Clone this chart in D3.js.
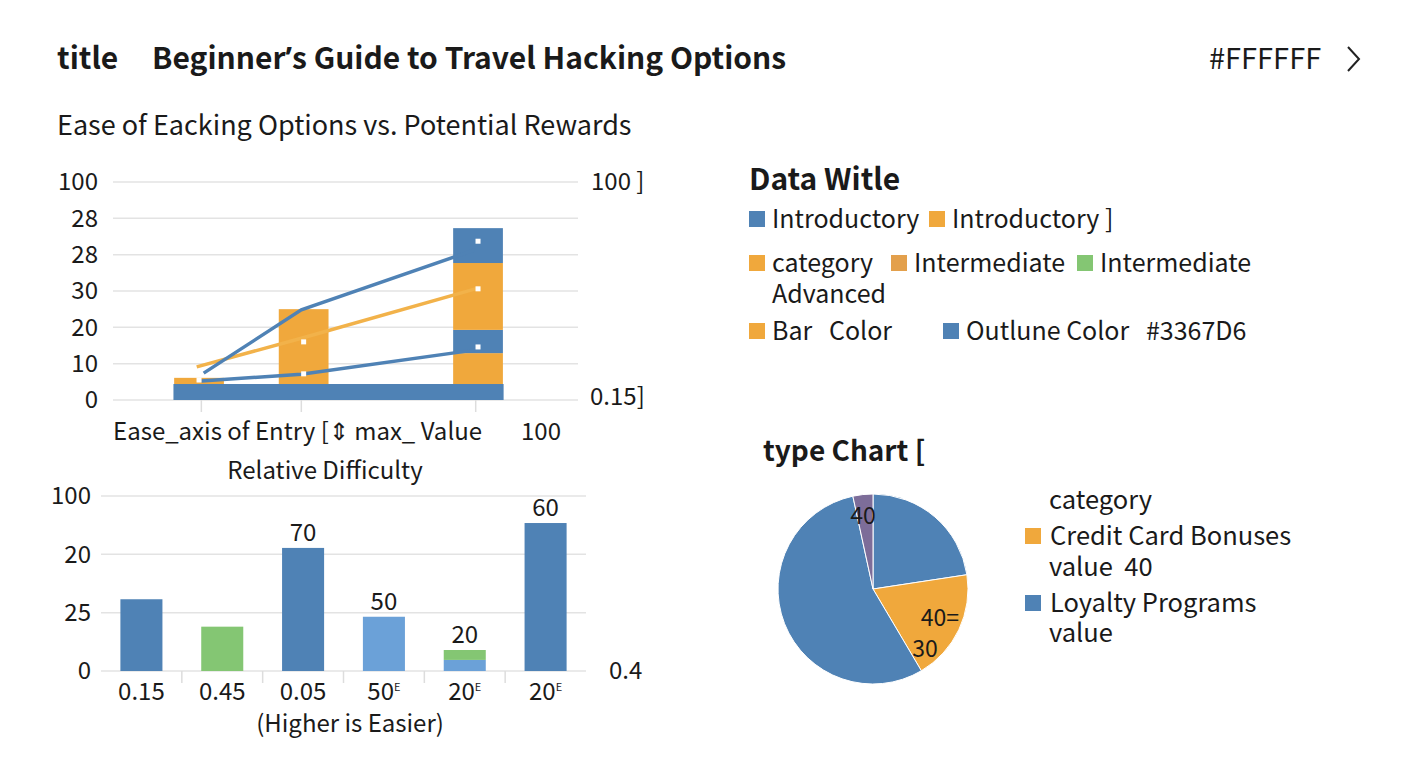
<!DOCTYPE html>
<html>
<head>
<meta charset="utf-8">
<script src="https://cdn.jsdelivr.net/npm/d3@7"></script>
<style>
  body { margin: 0; background: #fff; }
  text { font-family: "Noto Sans CJK SC", "Noto Sans", sans-serif; fill: #1a1a1a; }
  .bold { font-weight: 700; }
</style>
</head>
<body>
<svg id="chart" width="1408" height="768"></svg>
<script>
// ---- data ----
var topCatX = [19, 40.5, 78];               // positions on the ease axis
var topTickVals = [0, 10, 20, 30, 40, 50, 60];
var topTickLabels = ["0", "10", "20", "30", "28", "28", "100"];
var baseBar = [13, 84, 4.4];                // x0, x1, value
var segKeys = ["s1", "s2", "s3", "s4"];
var seg1 = [1.7, 20.6, 8.5];
var seg2 = [0, 0, 6.4];
var seg3 = [0, 0, 18.4];
var seg4 = [0, 0, 9.6];
var lineUpper = [7.4, 24.8, 41.3];
var lineMid = [9.1, 17, 30.8];
var lineLower = [5.2, 7.1, 13.8];
var dotPoints = [[0, 5.5], [1, 7.2], [1, 16], [2, 14.6], [2, 30.6], [2, 43.7]];

var diffCats = ["0.15", "0.45", "0.05", "50", "20", "20"];
var diffSup = ["", "", "", "E", "E", "E"];
var diffMain = [36.9, 22.8, 63.3, 27.9, 5.7, 76.1];
var diffTop = [0, 0, 0, 0, 5.1, 0];
var diffColor = ["b", "g", "b", "lb", "lb", "b"];
var diffLabels = ["", "", "70", "50", "20", "60"];
var botTickVals = [0, 30, 60, 90];
var botTickLabels = ["0", "25", "20", "100"];

var pieNames = ["Loyalty Programs", "Credit Card Bonuses", "Loyalty Programs", "Other"];
var pieValues = [22.6, 18.9, 55.1, 3.4];
var pieCols = ["b", "o", "b", "p"];

var C = { b: "#4f82b5", o: "#f0a83c", g: "#84c673", lb: "#6ba1d8", p: "#7d6d99", o2: "#e3a04c", ol: "#f2b24a" };

var svg = d3.select("#chart");

// ---- titles ----
svg.append("text").attr("class", "bold").attr("x", 57).attr("y", 69).style("font-size", "30px").text("title");
var tt = svg.append("text").attr("class", "bold").attr("x", 152).attr("y", 69).style("font-size", "30px");
tt.append("tspan").text("Beginner");
tt.append("tspan").style("font-family", "'Open Sans'").text("\u2019");
tt.append("tspan").text("s Guide to Travel Hacking Options");
svg.append("text").attr("x", 1209).attr("y", 69).style("font-size", "29px").text("#FFFFFF");
svg.append("path").attr("d", "M1348,47 L1359,59 L1348,71").attr("fill", "none").attr("stroke", "#222").attr("stroke-width", 2);
svg.append("text").attr("x", 57).attr("y", 135).style("font-size", "27px")
  .text("Ease of Eacking Options vs. Potential Rewards");

// ---- top chart ----
var xT = d3.scaleLinear().domain([0, 100]).range([113, 578]);
var yT = d3.scaleLinear().domain([0, 60]).range([400, 182]);

var gT = svg.append("g");
gT.selectAll("line.grid").data(topTickVals).enter().append("line")
  .attr("x1", xT(0)).attr("x2", xT(100))
  .attr("y1", function(d) { return yT(d); }).attr("y2", function(d) { return yT(d); })
  .attr("stroke", "#e3e3e3").attr("stroke-width", 1.5);
gT.selectAll("text.yl").data(topTickVals).enter().append("text")
  .attr("x", 98).attr("y", function(d) { return yT(d); }).attr("dy", "0.35em")
  .attr("text-anchor", "end").style("font-size", "24px")
  .text(function(d, i) { return topTickLabels[i]; });
gT.selectAll("line.tk").data(topCatX).enter().append("line")
  .attr("x1", function(d) { return xT(d); }).attr("x2", function(d) { return xT(d); })
  .attr("y1", yT(0)).attr("y2", yT(0) + 12).attr("stroke", "#dddddd").attr("stroke-width", 1.5);

var segRows = topCatX.map(function(x, i) { return { x: x, s1: seg1[i], s2: seg2[i], s3: seg3[i], s4: seg4[i] }; });
var stacked = d3.stack().keys(segKeys)(segRows);
var segCol = { s1: C.o, s2: C.b, s3: C.o, s4: C.b };
var barW = 10.7;
var barOff = [-0.5, 0.5, 0.5];

gT.append("rect")
  .attr("x", xT(baseBar[0])).attr("width", xT(baseBar[1]) - xT(baseBar[0]))
  .attr("y", yT(baseBar[2])).attr("height", yT(0) - yT(baseBar[2]))
  .attr("fill", C.b);

stacked.forEach(function(layer) {
  gT.selectAll(null).data(layer).enter().append("rect")
    .attr("x", function(d, i) { return xT(d.data.x + barOff[i] - barW / 2); })
    .attr("width", xT(barW) - xT(0))
    .attr("y", function(d) { return yT(d[1] + baseBar[2]); })
    .attr("height", function(d) { return yT(d[0]) - yT(d[1]); })
    .attr("fill", segCol[layer.key]);
});

function lineOf(vals, dx) {
  return d3.line()
    .x(function(d, i) { return xT(topCatX[i] + (i === 0 ? dx : i === 2 ? -dx / 2 : 0)); })
    .y(function(d) { return yT(d); })(vals);
}
gT.append("path").attr("d", lineOf(lineMid, -1)).attr("fill", "none").attr("stroke", C.ol).attr("stroke-width", 3.5);
gT.append("path").attr("d", lineOf(lineLower, 0)).attr("fill", "none").attr("stroke", C.b).attr("stroke-width", 3.5);
gT.append("path").attr("d", lineOf(lineUpper, 0.5)).attr("fill", "none").attr("stroke", C.b).attr("stroke-width", 3.5);

gT.selectAll("rect.dot").data(dotPoints).enter().append("rect")
  .attr("x", function(d) { return xT(topCatX[d[0]] + barOff[d[0]]) - 2.5; })
  .attr("y", function(d) { return yT(d[1]) - 2.5; })
  .attr("width", 5).attr("height", 5).attr("fill", "#fff");

svg.append("text").attr("x", 591).attr("y", yT(60)).attr("dy", "0.35em").style("font-size", "24px").text("100 ]");
svg.append("text").attr("x", 590).attr("y", yT(0) - 3).attr("dy", "0.35em").style("font-size", "24px").text("0.15]");
svg.append("text").attr("x", 113).attr("y", 440).style("font-size", "24px").text("Ease_axis of Entry [\u21D5 max_ Value");
svg.append("text").attr("x", 521).attr("y", 440).style("font-size", "24px").text("100");
svg.append("text").attr("x", 325).attr("y", 479).attr("text-anchor", "middle").style("font-size", "24px").text("Relative Difficulty");

// ---- bottom chart ----
var xB = d3.scaleBand().domain(d3.range(diffCats.length)).range([101, 586]).paddingInner(0.48).paddingOuter(0.24);
var yB = d3.scaleLinear().domain([0, 90]).range([671, 496]);
var gB = svg.append("g");

gB.selectAll(null).data(botTickVals).enter().append("line")
  .attr("x1", 101).attr("x2", 586)
  .attr("y1", function(d) { return yB(d); }).attr("y2", function(d) { return yB(d); })
  .attr("stroke", "#e3e3e3").attr("stroke-width", 1.5);
gB.selectAll(null).data(botTickVals).enter().append("text")
  .attr("x", 91).attr("y", function(d) { return yB(d); }).attr("dy", "0.35em")
  .attr("text-anchor", "end").style("font-size", "24px")
  .text(function(d, i) { return botTickLabels[i]; });
gB.selectAll(null).data(d3.range(1, diffCats.length)).enter().append("line")
  .attr("x1", function(d) { return xB(d) - (xB.step() - xB.bandwidth()) / 2; })
  .attr("x2", function(d) { return xB(d) - (xB.step() - xB.bandwidth()) / 2; })
  .attr("y1", yB(0)).attr("y2", yB(0) + 12).attr("stroke", "#dddddd").attr("stroke-width", 1.5);

gB.selectAll(null).data(diffMain).enter().append("rect")
  .attr("x", function(d, i) { return xB(i); }).attr("width", xB.bandwidth())
  .attr("y", function(d) { return yB(d); }).attr("height", function(d) { return yB(0) - yB(d); })
  .attr("fill", function(d, i) { return C[diffColor[i]]; });
gB.selectAll(null).data(diffTop).enter().append("rect")
  .attr("x", function(d, i) { return xB(i); }).attr("width", xB.bandwidth())
  .attr("y", function(d, i) { return yB(diffMain[i] + d); })
  .attr("height", function(d, i) { return yB(diffMain[i]) - yB(diffMain[i] + d); })
  .attr("fill", C.g);
gB.selectAll(null).data(diffLabels).enter().append("text")
  .attr("x", function(d, i) { return xB(i) + xB.bandwidth() / 2; })
  .attr("y", function(d, i) { return yB(diffMain[i] + diffTop[i]) - 7; })
  .attr("text-anchor", "middle").style("font-size", "24px")
  .text(function(d) { return d; });

var catT = gB.selectAll(null).data(diffCats).enter().append("text")
  .attr("x", function(d, i) { return xB(i) + xB.bandwidth() / 2; })
  .attr("y", 700).attr("text-anchor", "middle").style("font-size", "24px");
catT.append("tspan").text(function(d) { return d; });
catT.append("tspan").attr("dy", -9).style("font-size", "11px").text(function(d, i) { return diffSup[i]; });

svg.append("text").attr("x", 609).attr("y", yB(0)).attr("dy", "0.35em").style("font-size", "24px").text("0.4");
svg.append("text").attr("x", 350).attr("y", 732).attr("text-anchor", "middle").style("font-size", "24px").text("(Higher is Easier)");

// ---- legend top right ----
var gL = svg.append("g");
gL.append("text").attr("class", "bold").attr("x", 749).attr("y", 190).style("font-size", "30px").text("Data Witle");
var legItems = [
  [749, 219, C.b, "Introductory"], [929, 219, C.o, "Introductory ]"],
  [749, 263, C.o, "category"], [891, 263, C.o2, "Intermediate"], [1077, 263, C.g, "Intermediate"],
  [749, 331, C.o, "Bar   Color"], [943, 331, C.b, "Outlune Color   #3367D6"]
];
legItems.forEach(function(d) {
  gL.append("rect").attr("x", d[0]).attr("y", d[1] - 8).attr("width", 16).attr("height", 16).attr("fill", d[2]);
  gL.append("text").attr("x", d[0] + 23).attr("y", d[1]).attr("dy", "0.35em").style("font-size", "25px")
    .style("white-space", "pre").attr("xml:space", "preserve").text(d[3]);
});
gL.append("text").attr("x", 772).attr("y", 294).attr("dy", "0.35em").style("font-size", "25px").text("Advanced");

// ---- pie ----
svg.append("text").attr("class", "bold").attr("x", 763).attr("y", 461).style("font-size", "28px").text("type Chart [");
var pie = d3.pie().sort(null).value(function(d) { return d; });
var arc = d3.arc().innerRadius(0).outerRadius(95);
var gP = svg.append("g").attr("transform", "translate(873,589)");
gP.selectAll(null).data(pie(pieValues)).enter().append("path")
  .attr("d", arc).attr("fill", function(d, i) { return C[pieCols[i]]; })
  .attr("stroke", "#fff").attr("stroke-width", 1);
var pieLabels = [["40", -10, -73], ["40=", 67, 29], ["30", 52, 60]];
pieLabels.forEach(function(d) {
  gP.append("text").attr("x", d[1]).attr("y", d[2]).attr("dy", "0.35em").attr("text-anchor", "middle")
    .style("font-size", "23px").text(d[0]);
});

var gPL = svg.append("g").style("font-size", "25.5px");
gPL.append("text").attr("x", 1049).attr("y", 500).attr("dy", "0.35em").text("category");
gPL.append("rect").attr("x", 1025).attr("y", 528).attr("width", 16).attr("height", 16).attr("fill", C.o);
gPL.append("text").attr("x", 1050).attr("y", 536).attr("dy", "0.35em").text("Credit Card Bonuses");
gPL.append("text").attr("x", 1049).attr("y", 567).attr("dy", "0.35em")
  .attr("xml:space", "preserve").text("value  40");
gPL.append("rect").attr("x", 1025).attr("y", 595).attr("width", 16).attr("height", 16).attr("fill", C.b);
gPL.append("text").attr("x", 1050).attr("y", 603).attr("dy", "0.35em").text("Loyalty Programs");
gPL.append("text").attr("x", 1049).attr("y", 633).attr("dy", "0.35em").text("value");
</script>
</body>
</html>
